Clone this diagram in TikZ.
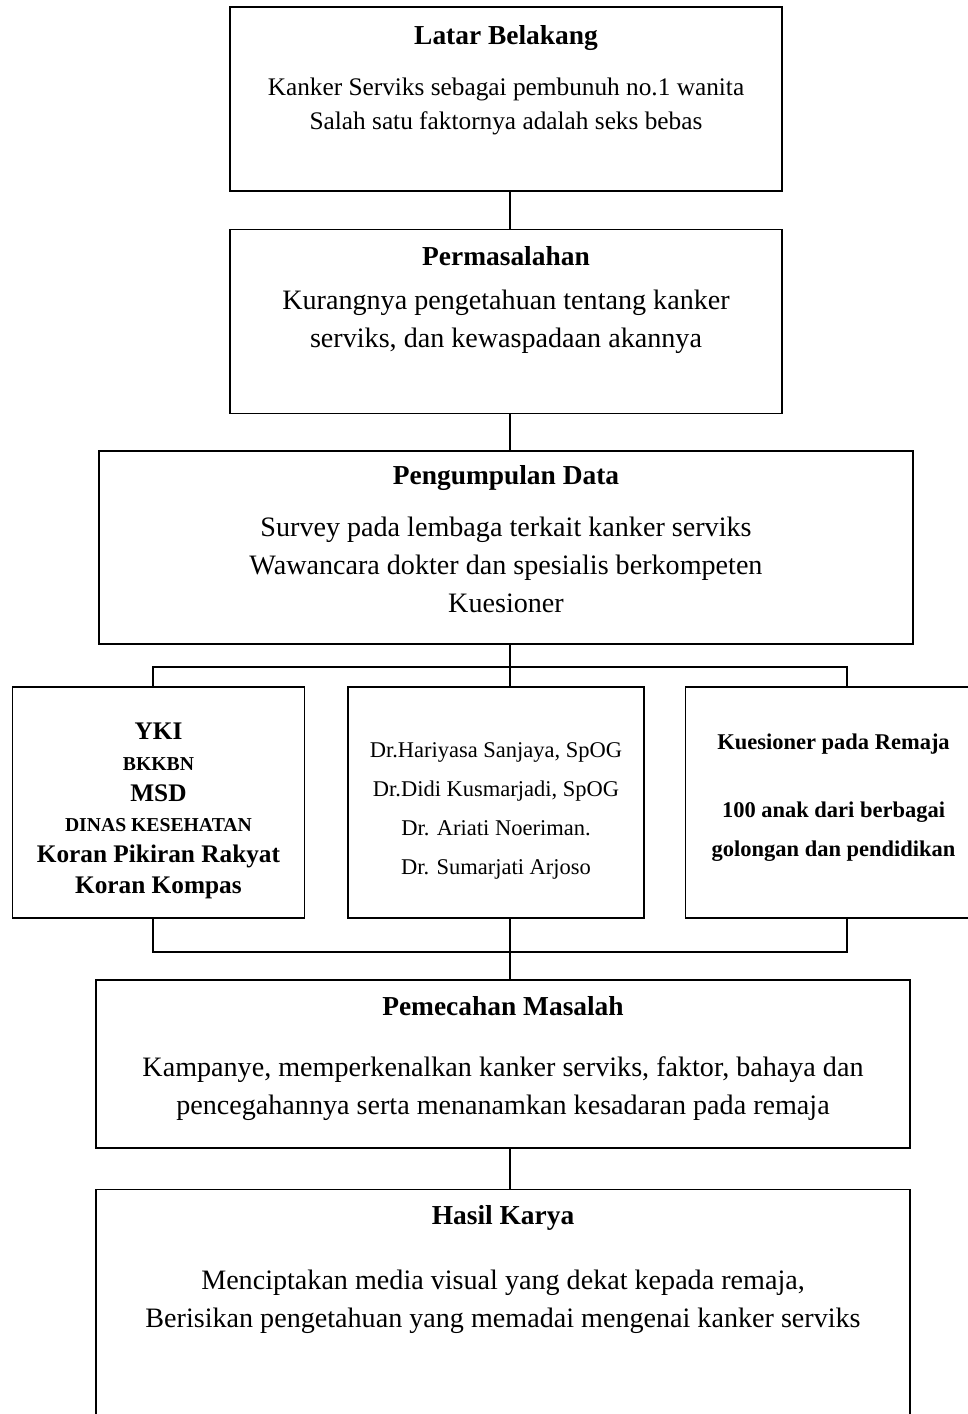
\documentclass[tikz,border=0pt]{standalone}
\usepackage{fontspec}
\setmainfont{Liberation Serif}
\usetikzlibrary{positioning}

\begin{document}
\begin{tikzpicture}[
  box/.style={draw,line width=1.1pt,minimum width=13.8cm,minimum height=4.6cm,inner sep=0pt},
  wide/.style={box,minimum width=20.35cm},
  side/.style={box,minimum width=7.4cm,minimum height=5.775cm},
  title/.style={font=\fontsize{19.5}{23}\selectfont\bfseries,inner sep=0pt},
  body/.style={font=\fontsize{20}{27}\selectfont,align=center,inner sep=0pt},
  link/.style={line width=0.8pt},
  node distance=0.925cm
]
  \useasboundingbox (0,0) rectangle (24.2,-35.35);

  % main chain
  \node[box] (latar) at (12.65,-2.475) {};
  \node[box,below=of latar] (masalah) {};
  \node[wide,minimum height=4.825cm,below=0.9cm of masalah] (data) {};
  \node[side] (mid) at (12.4,-20.0625) {};
  \node[side,minimum width=7.3cm,left=1.05cm of mid] (left) {};
  \node[side,right=1.0cm of mid] (right) {};
  \node[wide,minimum height=4.2cm] (solusi) at (12.575,-26.6) {};
  \node[wide,minimum height=6.6cm,below=1.0cm of solusi] (hasil) {};

  % texts
  \node[title] (latarT) at ([yshift=-0.8cm]latar.north) {Latar Belakang};
  \node[body,font=\fontsize{18}{24.2}\selectfont] (latarB) at ([yshift=-2.5cm]latar.north)
    {Kanker Serviks sebagai pembunuh no.1 wanita\\Salah satu faktornya adalah seks bebas};
  \node[title] (masalahT) at ([yshift=-0.675cm]masalah.north) {Permasalahan};
  \node[body] (masalahB) at ([yshift=-2.325cm]masalah.north)
    {Kurangnya pengetahuan tentang kanker\\serviks, dan kewaspadaan akannya};
  \node[title] (dataT) at ([yshift=-0.7cm]data.north) {Pengumpulan Data};
  \node[body] (dataB) at ([yshift=-2.875cm]data.north)
    {Survey pada lembaga terkait kanker serviks\\Wawancara dokter dan spesialis berkompeten\\Kuesioner};
  \node[body,font=\fontsize{18}{22}\selectfont\bfseries] (leftB) at ([yshift=-0.21cm]left.center)
    {YKI\\{\fontsize{14}{14}\selectfont BKKBN}\\MSD\\{\fontsize{14}{14}\selectfont DINAS KESEHATAN}\\Koran Pikiran Rakyat\\Koran Kompas};
  \node[body,font=\fontsize{16}{27.7}\selectfont] (midB) at ([yshift=-0.22cm]mid.center)
    {Dr.Hariyasa Sanjaya, SpOG\\Dr.Didi Kusmarjadi, SpOG\\Dr. Ariati Noeriman.\\Dr. Sumarjati Arjoso};
  \node[body,font=\fontsize{16}{27.7}\selectfont\bfseries] (rightB) at ([yshift=0.12cm]right.center)
    {Kuesioner pada Remaja\\[20.7pt]100 anak dari berbagai\\golongan dan pendidikan};
  \node[title] (solusiT) at ([yshift=-0.675cm]solusi.north) {Pemecahan Masalah};
  \node[body] (solusiB) at ([yshift=-2.725cm]solusi.north)
    {Kampanye, memperkenalkan kanker serviks, faktor, bahaya dan\\pencegahannya serta menanamkan kesadaran pada remaja};
  \node[title] (hasilT) at ([yshift=-0.725cm]hasil.north) {Hasil Karya};
  \node[body] (hasilB) at ([yshift=-2.825cm]hasil.north)
    {Menciptakan media visual yang dekat kepada remaja,\\Berisikan pengetahuan yang memadai mengenai kanker serviks};

  % connectors
  \coordinate (split) at (12.75,-16.675);
  \coordinate (splitL) at (3.825,-16.675);
  \coordinate (splitR) at (21.175,-16.675);
  \coordinate (merge) at (12.75,-23.8);
  \coordinate (mergeL) at (3.825,-23.8);
  \coordinate (mergeR) at (21.175,-23.8);

  \draw[link] (latar.south -| split) -- (masalah.north -| split);
  \draw[link] (masalah.south -| split) -- (data.north -| split);
  \draw[link] (data.south -| split) -- (split) -- (split |- mid.north);
  \draw[link] (splitL |- left.north) -- (splitL) -- (splitR) -- (splitR |- right.north);
  \draw[link] (mergeL |- left.south) -- (mergeL) -- (mergeR) -- (mergeR |- right.south);
  \draw[link] (merge |- mid.south) -- (merge |- solusi.north);
  \draw[link] (solusi.south -| split) -- (hasil.north -| split);
\end{tikzpicture}
\end{document}
